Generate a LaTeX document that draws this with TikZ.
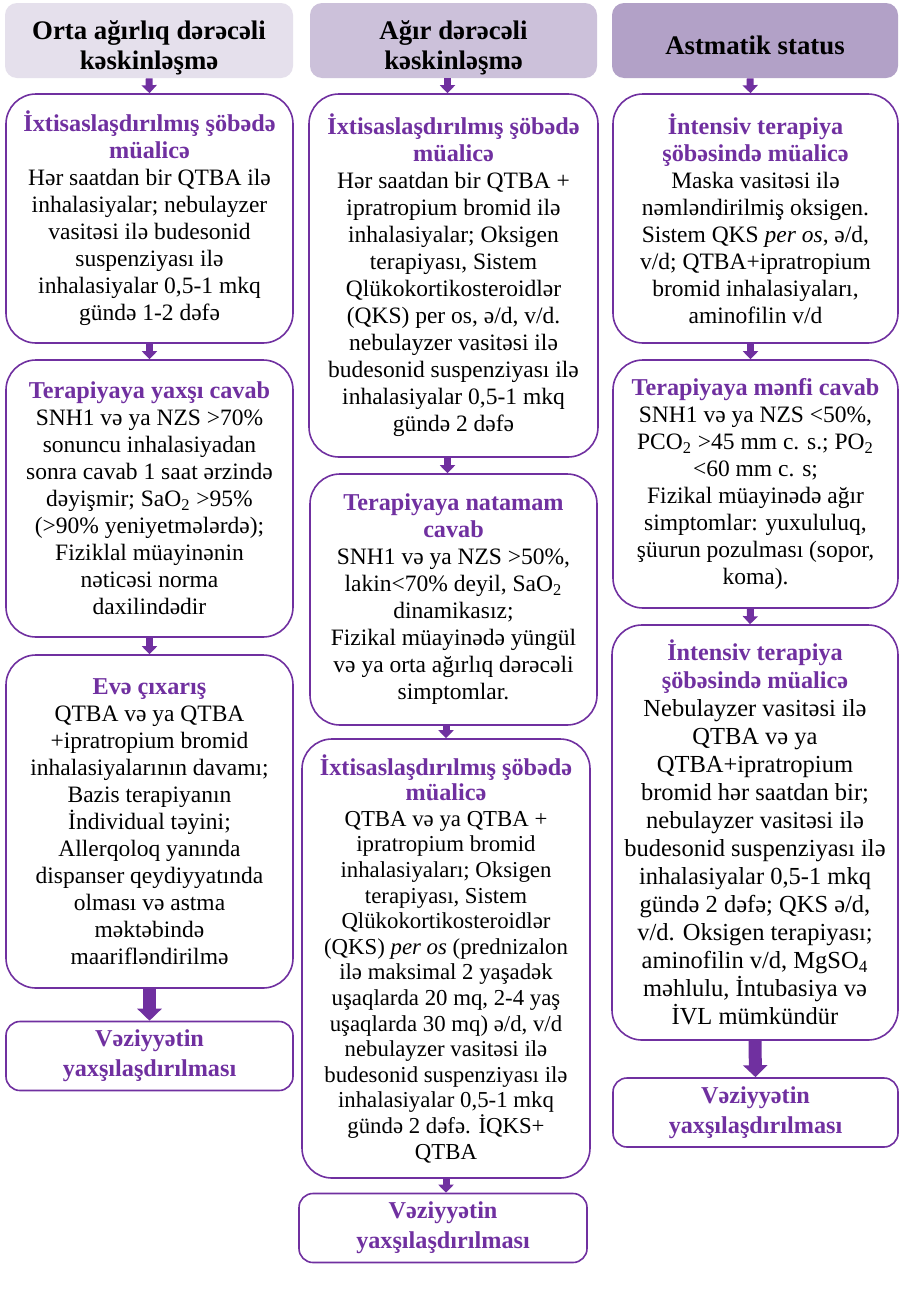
\documentclass[tikz,border=0pt]{standalone}
\usepackage{fontspec}
\setmainfont{Liberation Serif}
\usepackage{xcolor}
\usetikzlibrary{arrows.meta}
\definecolor{benov}{RGB}{112,48,160}
\definecolor{basliqA}{RGB}{229,224,236}
\definecolor{basliqB}{RGB}{204,193,218}
\definecolor{basliqC}{RGB}{178,161,199}
\newcommand{\bsl}[1]{{\fontsize{12.1}{14}\selectfont\textcolor{benov}{\textbf{#1}}}}

\begin{document}
\begin{tikzpicture}[x=0.5pt, y=-0.5pt,
    basliq/.style={rounded corners=6pt, minimum height=37.5pt, inner sep=0pt, align=center, font=\fontsize{13.4}{15}\selectfont\bfseries},
    kutu/.style={draw=benov, line width=0.8pt, rounded corners=15pt, inner sep=0pt, align=center, font=\fontsize{11.75}{13.5}\selectfont},
    netice/.style={draw=benov, line width=0.8pt, rounded corners=7pt, inner sep=0pt, minimum height=34.5pt, align=center, font=\fontsize{11.75}{15}\selectfont},
    oxk/.style={benov, line width=3.5pt, -{Triangle[width=7.5pt,length=4pt]}},
    oxb/.style={benov, line width=6.5pt, -{Triangle[width=12pt,length=6pt]}}]

    % Fon
    \fill[white] (0,0) rectangle (899,1296);
    \useasboundingbox (0,0) rectangle (899,1296);

    % Sutun 1
    \node[basliq, fill=basliqA, minimum width=144pt] (bas1) at (149,40.5) {\rule{0pt}{17pt}Orta ağırlıq dərəcəli\\kəskinləşmə};
    \node[kutu, minimum width=143.5pt, minimum height=124.5pt] (s1a) at (149.5,218.5) {\bsl{İxtisaslaşdırılmış şöbədə}\\\bsl{müalicə}\\
        Hər saatdan bir QTBA ilə\\inhalasiyalar; nebulayzer\\vasitəsi ilə budesonid\\suspenziyası ilə\\inhalasiyalar 0,5-1 mkq\\gündə 1-2 dəfə};
    \node[kutu, minimum width=143.5pt, minimum height=138.5pt] (s1b) at (149.5,498.5) {\bsl{Terapiyaya yaxşı cavab}\\
        SNH1 və ya NZS >70\%\\sonuncu inhalasiyadan\\sonra cavab 1 saat ərzində\\dəyişmir; SaO\textsubscript{2} >95\%\\(>90\% yeniyetmələrdə);\\Fiziklal müayinənin\\nəticəsi norma\\daxilindədir};
    \node[kutu, minimum width=143.5pt, minimum height=166.5pt] (s1c) at (149.5,821.5) {\bsl{Evə çıxarış}\\
        QTBA və ya QTBA\\+ipratropium bromid\\inhalasiyalarının davamı;\\Bazis terapiyanın\\İndividual təyini;\\Allerqoloq yanında\\dispanser qeydiyyatında\\olması və astma\\məktəbində\\maarifləndirilmə};
    \node[netice, minimum width=143.5pt] (s1d) at (149.5,1056) {\bsl{Vəziyyətin}\\\bsl{yaxşılaşdırılması}};

    \draw[oxk] (bas1.south) -- (s1a.north);
    \draw[oxk] (s1a.south) -- (s1b.north);
    \draw[oxk] (s1b.south) -- (s1c.north);
    \draw[oxb] (s1c.south) -- (s1d.north);

    % Sutun 2
    \node[basliq, fill=basliqB, minimum width=143.5pt] (bas2) at (453.5,40.5) {\rule{0pt}{17pt}Ağır dərəcəli\\kəskinləşmə};
    \node[kutu, minimum width=144.5pt, minimum height=181.5pt] (s2a) at (453.5,275.5) {\bsl{İxtisaslaşdırılmış şöbədə}\\\bsl{müalicə}\\
        Hər saatdan bir QTBA +\\ipratropium bromid ilə\\inhalasiyalar; Oksigen\\terapiyası, Sistem\\Qlükokortikosteroidlər\\(QKS) per os, ə/d, v/d.\\nebulayzer vasitəsi ilə\\budesonid suspenziyası ilə\\inhalasiyalar 0,5-1 mkq\\gündə 2 dəfə};
    \node[kutu, minimum width=143.5pt, minimum height=125.5pt] (s2b) at (453.5,599.5) {\bsl{Terapiyaya natamam}\\\bsl{cavab}\\
        SNH1 və ya NZS >50\%,\\lakin<70\% deyil, SaO\textsubscript{2}\\dinamikasız;\\Fizikal müayinədə yüngül\\və ya orta ağırlıq dərəcəli\\simptomlar.};
    \node[kutu, minimum width=144pt, minimum height=219.5pt, font=\fontsize{11.4}{12.8}\selectfont] (s2c) at (446,958.5) {\bsl{İxtisaslaşdırılmış şöbədə}\\\bsl{müalicə}\\
        QTBA və ya QTBA +\\ipratropium bromid\\inhalasiyaları; Oksigen\\terapiyası, Sistem\\Qlükokortikosteroidlər\\(QKS) \textit{per os} (prednizalon\\ilə maksimal 2 yaşadək\\uşaqlarda 20 mq, 2-4 yaş\\uşaqlarda 30 mq) ə/d, v/d\\nebulayzer vasitəsi ilə\\budesonid suspenziyası ilə\\inhalasiyalar 0,5-1 mkq\\gündə 2 dəfə. İQKS+\\QTBA};
    \node[netice, minimum width=144pt] (s2d) at (443,1228) {\bsl{Vəziyyətin}\\\bsl{yaxşılaşdırılması}};

    \draw[oxk] ([xshift=-3pt]bas2.south) -- ([xshift=-3pt]s2a.north);
    \draw[oxk] ([xshift=-3pt]s2a.south) -- ([xshift=-3pt]s2b.north);
    \draw[oxk] (s2b.south -| s2c.north) -- (s2c.north);
    \draw[oxk] (s2c.south) -- (s2c.south |- s2d.north);

    % Sutun 3
    \node[basliq, fill=basliqC, minimum width=143pt] (bas3) at (755,40.5) {\rule{0pt}{14pt}Astmatik status};
    \node[kutu, minimum width=142.5pt, minimum height=124.5pt] (s3a) at (755.5,218.5) {\bsl{İntensiv terapiya}\\\bsl{şöbəsində müalicə}\\
        Maska vasitəsi ilə\\nəmləndirilmiş oksigen.\\Sistem QKS \textit{per os}, ə/d,\\v/d; QTBA+ipratropium\\bromid inhalasiyaları,\\aminofilin v/d};
    \node[kutu, minimum width=142.5pt, minimum height=124pt] (s3b) at (755.5,484) {\bsl{Terapiyaya mənfi cavab}\\
        SNH1 və ya NZS <50\%,\\PCO\textsubscript{2} >45 mm c. s.; PO\textsubscript{2}\\<60 mm c. s;\\Fizikal müayinədə ağır\\simptomlar: yuxululuq,\\şüurun pozulması (sopor,\\koma).};
    \node[kutu, minimum width=143pt, minimum height=207.5pt, font=\fontsize{12.25}{14}\selectfont] (s3c) at (755,832.5) {\bsl{İntensiv terapiya}\\\bsl{şöbəsində müalicə}\\
        Nebulayzer vasitəsi ilə\\QTBA və ya\\QTBA+ipratropium\\bromid hər saatdan bir;\\nebulayzer vasitəsi ilə\\budesonid suspenziyası ilə\\inhalasiyalar 0,5-1 mkq\\gündə 2 dəfə; QKS ə/d,\\v/d. Oksigen terapiyası;\\aminofilin v/d, MgSO\textsubscript{4}\\məhlulu, İntubasiya və\\İVL mümkündür};
    \node[netice, minimum width=142.5pt] (s3d) at (755.5,1112.5) {\bsl{Vəziyyətin}\\\bsl{yaxşılaşdırılması}};

    \draw[oxk] ([xshift=-2.5pt]bas3.south) -- ([xshift=-2.5pt]s3a.north);
    \draw[oxk] ([xshift=-2.5pt]s3a.south) -- ([xshift=-2.5pt]s3b.north);
    \draw[oxk] ([xshift=-2.5pt]s3b.south) -- ([xshift=-2.5pt]s3c.north);
    \draw[oxb] (s3c.south) -- (s3d.north);
\end{tikzpicture}
\end{document}
